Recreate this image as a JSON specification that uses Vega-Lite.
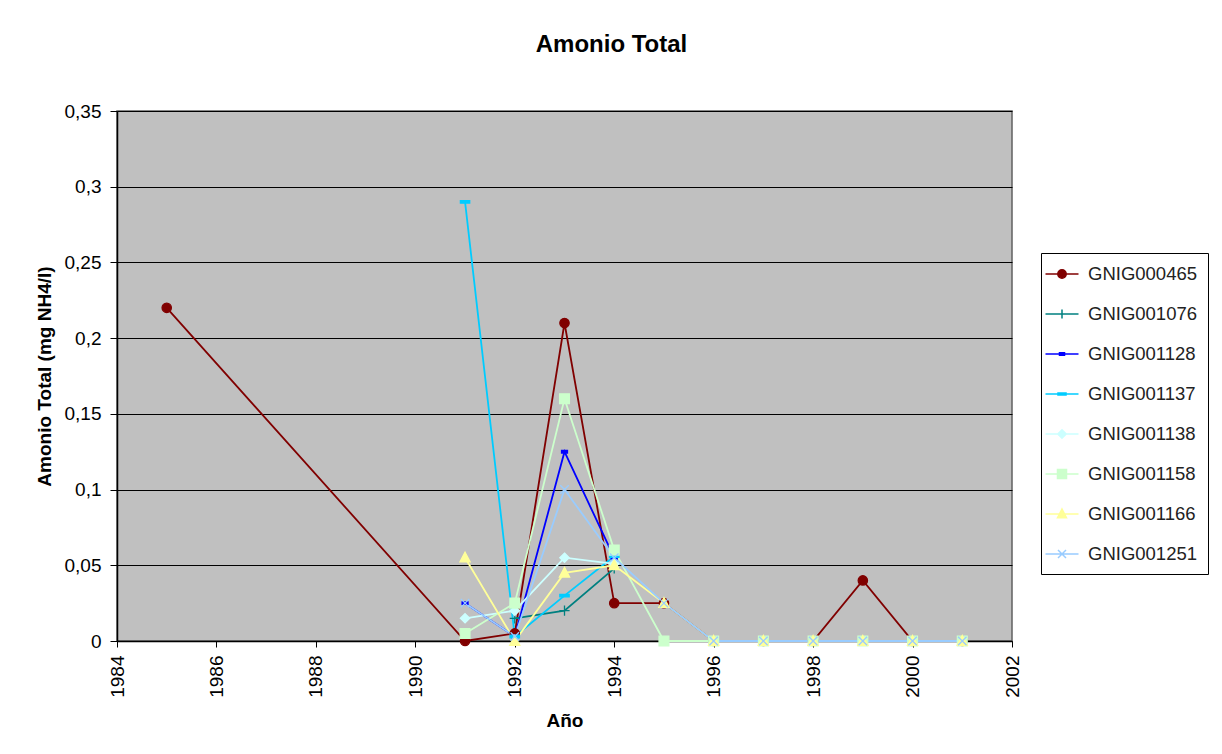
{
  "$schema": "https://vega.github.io/schema/vega-lite/v6.json",
  "autosize": "none",
  "width": 895,
  "height": 530,
  "padding": {"left": 117, "top": 111, "right": 210, "bottom": 113},
  "background": "white",
  "title": {"text": "Amonio Total", "fontSize": 24, "fontWeight": "bold", "font": "Liberation Sans", "color": "black", "anchor": "middle", "dx": 47, "offset": 45},
  "config": {
    "font": "Liberation Sans",
    "view": {"fill": "#C0C0C0", "stroke": "#606060", "strokeWidth": 1.5}
  },
  "data": {"values": [
    {"series": "GNIG000465", "year": 1985, "value": 0.22},
    {"series": "GNIG000465", "year": 1991, "value": 0.0},
    {"series": "GNIG000465", "year": 1992, "value": 0.005},
    {"series": "GNIG000465", "year": 1993, "value": 0.21},
    {"series": "GNIG000465", "year": 1994, "value": 0.025},
    {"series": "GNIG000465", "year": 1995, "value": 0.025},
    {"series": "GNIG000465", "year": 1996, "value": 0.0},
    {"series": "GNIG000465", "year": 1997, "value": 0.0},
    {"series": "GNIG000465", "year": 1998, "value": 0.0},
    {"series": "GNIG000465", "year": 1999, "value": 0.04},
    {"series": "GNIG000465", "year": 2000, "value": 0.0},
    {"series": "GNIG000465", "year": 2001, "value": 0.0},
    {"series": "GNIG001076", "year": 1992, "value": 0.015},
    {"series": "GNIG001076", "year": 1993, "value": 0.02},
    {"series": "GNIG001076", "year": 1994, "value": 0.048},
    {"series": "GNIG001128", "year": 1991, "value": 0.025},
    {"series": "GNIG001128", "year": 1992, "value": 0.003},
    {"series": "GNIG001128", "year": 1993, "value": 0.125},
    {"series": "GNIG001128", "year": 1994, "value": 0.055},
    {"series": "GNIG001137", "year": 1991, "value": 0.29},
    {"series": "GNIG001137", "year": 1992, "value": 0.003},
    {"series": "GNIG001137", "year": 1993, "value": 0.03},
    {"series": "GNIG001137", "year": 1994, "value": 0.056},
    {"series": "GNIG001138", "year": 1991, "value": 0.015},
    {"series": "GNIG001138", "year": 1992, "value": 0.02},
    {"series": "GNIG001138", "year": 1993, "value": 0.055},
    {"series": "GNIG001138", "year": 1994, "value": 0.051},
    {"series": "GNIG001158", "year": 1991, "value": 0.005},
    {"series": "GNIG001158", "year": 1992, "value": 0.025},
    {"series": "GNIG001158", "year": 1993, "value": 0.16},
    {"series": "GNIG001158", "year": 1994, "value": 0.06},
    {"series": "GNIG001158", "year": 1995, "value": 0.0},
    {"series": "GNIG001158", "year": 1996, "value": 0.0},
    {"series": "GNIG001158", "year": 1997, "value": 0.0},
    {"series": "GNIG001158", "year": 1998, "value": 0.0},
    {"series": "GNIG001158", "year": 1999, "value": 0.0},
    {"series": "GNIG001158", "year": 2000, "value": 0.0},
    {"series": "GNIG001158", "year": 2001, "value": 0.0},
    {"series": "GNIG001166", "year": 1991, "value": 0.055},
    {"series": "GNIG001166", "year": 1992, "value": 0.0},
    {"series": "GNIG001166", "year": 1993, "value": 0.045},
    {"series": "GNIG001166", "year": 1994, "value": 0.05},
    {"series": "GNIG001166", "year": 1995, "value": 0.025},
    {"series": "GNIG001166", "year": 1996, "value": 0.0},
    {"series": "GNIG001166", "year": 1997, "value": 0.0},
    {"series": "GNIG001166", "year": 1998, "value": 0.0},
    {"series": "GNIG001166", "year": 1999, "value": 0.0},
    {"series": "GNIG001166", "year": 2000, "value": 0.0},
    {"series": "GNIG001166", "year": 2001, "value": 0.0},
    {"series": "GNIG001251", "year": 1991, "value": 0.025},
    {"series": "GNIG001251", "year": 1992, "value": 0.003},
    {"series": "GNIG001251", "year": 1993, "value": 0.1},
    {"series": "GNIG001251", "year": 1994, "value": 0.055},
    {"series": "GNIG001251", "year": 1995, "value": 0.025},
    {"series": "GNIG001251", "year": 1996, "value": 0.0},
    {"series": "GNIG001251", "year": 1997, "value": 0.0},
    {"series": "GNIG001251", "year": 1998, "value": 0.0},
    {"series": "GNIG001251", "year": 1999, "value": 0.0},
    {"series": "GNIG001251", "year": 2000, "value": 0.0},
    {"series": "GNIG001251", "year": 2001, "value": 0.0}
  ]},
  "encoding": {
    "x": {"field": "year", "type": "quantitative",
      "scale": {"domain": [1984, 2002], "nice": false, "zero": false},
      "axis": {"title": "Año", "values": [1984, 1986, 1988, 1990, 1992, 1994, 1996, 1998, 2000, 2002], "format": "d",
        "labelAngle": 270, "labelFontSize": 19, "labelColor": "black", "labelPadding": 8, "tickSize": 6, "tickColor": "black",
        "domainColor": "black", "domainWidth": 1.5, "grid": false, "titleFontSize": 19, "titleFontWeight": "bold", "titleColor": "black", "titlePadding": 14}},
    "y": {"field": "value", "type": "quantitative",
      "scale": {"domain": [0, 0.35], "nice": false},
      "axis": {"title": "Amonio Total (mg NH4/l)", "values": [0, 0.05, 0.1, 0.15, 0.2, 0.25, 0.3, 0.35],
        "labelExpr": "replace(format(datum.value, '.2~f'), '.', ',')",
        "labelFontSize": 19, "labelColor": "black", "labelPadding": 9, "tickSize": 7, "tickColor": "black",
        "domainColor": "black", "domainWidth": 1.5, "grid": true, "gridColor": "black", "gridWidth": 1.2, "gridOpacity": 1,
        "titleFontSize": 19, "titleFontWeight": "bold", "titleColor": "black", "titlePadding": 10}}
  },
  "layer": [
    {
      "mark": {"type": "line", "strokeWidth": 1.8},
      "encoding": {
        "color": {"field": "series", "type": "nominal", "legend": null,
          "scale": {"domain": ["GNIG000465", "GNIG001076", "GNIG001128", "GNIG001137", "GNIG001138", "GNIG001158", "GNIG001166", "GNIG001251"],
            "range": ["#800000", "#008080", "#0000FF", "#00CCFF", "#CCFFFF", "#CCFFCC", "#FFFF99", "#99CCFF"]}}
      }
    },
    {
      "mark": {"type": "point", "filled": true, "opacity": 1, "size": 72, "strokeWidth": 1.3},
      "encoding": {
        "fill": {"field": "series", "type": "nominal", "legend": null,
          "scale": {"domain": ["GNIG000465", "GNIG001076", "GNIG001128", "GNIG001137", "GNIG001138", "GNIG001158", "GNIG001166", "GNIG001251"],
            "range": ["#800000", "#008080", "#0000FF", "#00CCFF", "#CCFFFF", "#CCFFCC", "#FFFF99", "#99CCFF"]}},
        "stroke": {"field": "series", "type": "nominal", "legend": null,
          "scale": {"domain": ["GNIG000465", "GNIG001076", "GNIG001128", "GNIG001137", "GNIG001138", "GNIG001158", "GNIG001166", "GNIG001251"],
            "range": ["#800000", "#008080", "#0000FF", "#00CCFF", "#CCFFFF", "#CCFFCC", "#FFFF99", "#99CCFF"]}},
        "shape": {"field": "series", "type": "nominal", "legend": null,
          "scale": {"domain": ["GNIG000465", "GNIG001076", "GNIG001128", "GNIG001137", "GNIG001138", "GNIG001158", "GNIG001166", "GNIG001251"],
            "range": [
              "M-1.1,0A1.1,1.1,0,1,0,1.1,0A1.1,1.1,0,1,0,-1.1,0Z",
              "M-1.2,0H1.2M0,-1.2V1.2",
              "M-0.7,-0.3H0.7V0.3H-0.7Z",
              "M-1.1,-0.3H1.1V0.3H-1.1Z",
              "M0,-1.1L1.1,0L0,1.1L-1.1,0Z",
              "M-1.15,-1.15H1.15V1.15H-1.15Z",
              "M0,-1.3L1.2,1H-1.2Z",
              "M-1,-1L1,1M-1,1L1,-1"
            ]}}
      }
    },
    {
      "transform": [{"filter": "datum.year < 0"}],
      "mark": {"type": "point", "filled": true, "opacity": 1, "strokeWidth": 1.5},
      "encoding": {
        "fill": {"field": "series", "type": "nominal",
          "scale": {"domain": ["GNIG000465", "GNIG001076", "GNIG001128", "GNIG001137", "GNIG001138", "GNIG001158", "GNIG001166", "GNIG001251"],
            "range": ["#800000", "#008080", "#0000FF", "#00CCFF", "#CCFFFF", "#CCFFCC", "#FFFF99", "#99CCFF"]},
          "legend": {"title": null, "orient": "none", "legendX": 924, "legendY": 142, "padding": 10, "strokeColor": "black", "fillColor": "white",
            "symbolSize": 400, "symbolStrokeWidth": 1.5, "labelFontSize": 18.5, "labelColor": "#222", "labelOffset": 15, "rowPadding": 19}},
        "stroke": {"field": "series", "type": "nominal",
          "scale": {"domain": ["GNIG000465", "GNIG001076", "GNIG001128", "GNIG001137", "GNIG001138", "GNIG001158", "GNIG001166", "GNIG001251"],
            "range": ["#800000", "#008080", "#0000FF", "#00CCFF", "#CCFFFF", "#CCFFCC", "#FFFF99", "#99CCFF"]},
          "legend": {"title": null, "orient": "none", "legendX": 924, "legendY": 142, "padding": 10, "strokeColor": "black", "fillColor": "white",
            "symbolSize": 400, "symbolStrokeWidth": 1.5, "labelFontSize": 18.5, "labelColor": "#222", "labelOffset": 15, "rowPadding": 19}},
        "shape": {"field": "series", "type": "nominal",
          "scale": {"domain": ["GNIG000465", "GNIG001076", "GNIG001128", "GNIG001137", "GNIG001138", "GNIG001158", "GNIG001166", "GNIG001251"],
            "range": [
              "M-1.65,0H1.65M-0.42,0A0.42,0.42,0,1,0,0.42,0A0.42,0.42,0,1,0,-0.42,0Z",
              "M-1.65,0H1.65M0,-0.45V0.45",
              "M-1.65,0H1.65M-0.25,-0.12H0.25V0.12H-0.25Z",
              "M-1.65,0H1.65M-0.4,-0.1H0.4V0.1H-0.4Z",
              "M-1.65,0H1.65M0,-0.42L0.42,0L0,0.42L-0.42,0Z",
              "M-1.65,0H1.65M-0.45,-0.45H0.45V0.45H-0.45Z",
              "M-1.65,0H1.65M0,-0.5L0.45,0.38H-0.45Z",
              "M-1.65,0H1.65M-0.4,-0.4L0.4,0.4M-0.4,0.4L0.4,-0.4"
            ]},
          "legend": {"title": null, "orient": "none", "legendX": 924, "legendY": 142, "padding": 10, "strokeColor": "black", "fillColor": "white",
            "symbolSize": 400, "symbolStrokeWidth": 1.5, "labelFontSize": 18.5, "labelColor": "#222", "labelOffset": 15, "rowPadding": 19}}
      }
    }
  ],
  "resolve": {"scale": {"fill": "independent", "stroke": "independent", "shape": "independent"}}
}
